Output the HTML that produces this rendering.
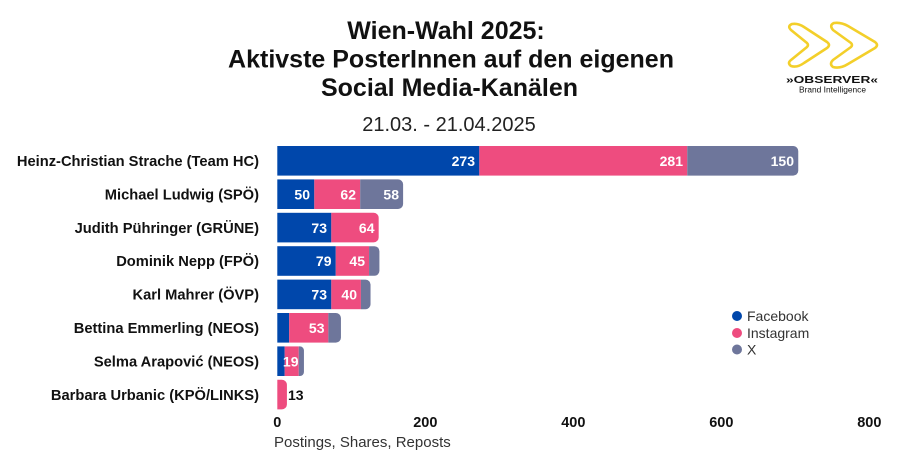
<!DOCTYPE html>
<html><head><meta charset="utf-8"><style>
html,body{margin:0;padding:0;background:#fff;}
svg{display:block;}
text{font-family:"Liberation Sans",Arial,sans-serif;}
</style></head><body>
<svg width="900" height="470" viewBox="0 0 900 470" xmlns="http://www.w3.org/2000/svg">
<rect width="900" height="470" fill="#fff"/>
<!-- Title -->
<text x="446" y="39" text-anchor="middle" font-size="25" font-weight="bold" fill="#111">Wien-Wahl 2025:</text>
<text x="451" y="67.5" text-anchor="middle" font-size="25" font-weight="bold" fill="#111">Aktivste PosterInnen auf den eigenen</text>
<text x="449.5" y="96" text-anchor="middle" font-size="25" font-weight="bold" fill="#111">Social Media-Kanälen</text>
<text x="449" y="131" text-anchor="middle" font-size="20" fill="#222">21.03. - 21.04.2025</text>

<!-- Logo -->
<g fill="none" stroke="#f3cf2a" stroke-width="2.6" stroke-linejoin="round">
<path d="M792 24 Q798 23 804 27 L827 42 Q831 45 827 48 L804 63 Q797 68 791 66 Q787 63 791 60 L807 47 Q809 45 807 43 L791 30 Q787 26 792 24 Z"/>
<path d="M834 23 Q841 22 848 26 L875 42 Q879 45 875 48 L848 64 Q840 69 833 67 Q829 64 833 60 L851 47 Q853 45 851 43 L833 30 Q829 25 834 23 Z"/>
</g>
<text x="786" y="83" font-family="'Liberation Serif',serif" font-size="10.5" font-weight="bold" fill="#111" textLength="92" lengthAdjust="spacingAndGlyphs">»OBSERVER«</text>
<text x="799" y="92.5" font-size="8" fill="#111" textLength="67" lengthAdjust="spacingAndGlyphs">Brand Intelligence</text>

<!-- Name labels -->
<g font-size="14.7" font-weight="bold" fill="#111" text-anchor="end">
<text x="259" y="166">Heinz-Christian Strache (Team HC)</text>
<text x="259" y="199.4">Michael Ludwig (SPÖ)</text>
<text x="259" y="232.8">Judith Pühringer (GRÜNE)</text>
<text x="259" y="266.2">Dominik Nepp (FPÖ)</text>
<text x="259" y="299.6">Karl Mahrer (ÖVP)</text>
<text x="259" y="333">Bettina Emmerling (NEOS)</text>
<text x="259" y="366.4">Selma Arapović (NEOS)</text>
<text x="259" y="399.8">Barbara Urbanic (KPÖ/LINKS)</text>
</g>

<!-- Bars -->
<!-- Bar 0 y=146 -->
<rect x="277.3" y="146" width="202.02" height="29.6" fill="#0047ab"/>
<rect x="479.32" y="146" width="207.94" height="29.6" fill="#ee4c7f"/>
<path d="M687.26 146 H793.26 A5 5 0 0 1 798.26 151 V170.6 A5 5 0 0 1 793.26 175.6 H687.26 Z" fill="#6e769b"/>
<!-- Bar 1 y=179.4 -->
<rect x="277.3" y="179.4" width="37" height="29.6" fill="#0047ab"/>
<rect x="314.3" y="179.4" width="45.88" height="29.6" fill="#ee4c7f"/>
<path d="M360.18 179.4 H398.1 A5 5 0 0 1 403.1 184.4 V204 A5 5 0 0 1 398.1 209 H360.18 Z" fill="#6e769b"/>
<!-- Bar 2 y=212.8 -->
<rect x="277.3" y="212.8" width="54.02" height="29.6" fill="#0047ab"/>
<path d="M331.32 212.8 H373.68 A5 5 0 0 1 378.68 217.8 V237.4 A5 5 0 0 1 373.68 242.4 H331.32 Z" fill="#ee4c7f"/>
<!-- Bar 3 y=246.2 -->
<rect x="277.3" y="246.2" width="58.46" height="29.6" fill="#0047ab"/>
<rect x="335.76" y="246.2" width="33.3" height="29.6" fill="#ee4c7f"/>
<path d="M369.06 246.2 H374.42 A5 5 0 0 1 379.42 251.2 V270.8 A5 5 0 0 1 374.42 275.8 H369.06 Z" fill="#6e769b"/>
<!-- Bar 4 y=279.6 -->
<rect x="277.3" y="279.6" width="54.02" height="29.6" fill="#0047ab"/>
<rect x="331.32" y="279.6" width="29.6" height="29.6" fill="#ee4c7f"/>
<path d="M360.92 279.6 H365.54 A5 5 0 0 1 370.54 284.6 V304.2 A5 5 0 0 1 365.54 309.2 H360.92 Z" fill="#6e769b"/>
<!-- Bar 5 y=313 -->
<rect x="277.3" y="313" width="11.84" height="29.6" fill="#0047ab"/>
<rect x="289.14" y="313" width="39.22" height="29.6" fill="#ee4c7f"/>
<path d="M328.36 313 H335.94 A5 5 0 0 1 340.94 318 V337.6 A5 5 0 0 1 335.94 342.6 H328.36 Z" fill="#6e769b"/>
<!-- Bar 6 y=346.4 -->
<rect x="277.3" y="346.4" width="7.4" height="29.6" fill="#0047ab"/>
<rect x="284.7" y="346.4" width="14.06" height="29.6" fill="#ee4c7f"/>
<path d="M298.76 346.4 H299.94 A4 4 0 0 1 303.94 350.4 V372 A4 4 0 0 1 299.94 376 H298.76 Z" fill="#6e769b"/>
<!-- Bar 7 y=379.8 -->
<path d="M277.3 379.8 H281.92 A5 5 0 0 1 286.92 384.8 V404.4 A5 5 0 0 1 281.92 409.4 H277.3 Z" fill="#ee4c7f"/>

<!-- Value labels -->
<g font-size="14" font-weight="bold" fill="#fff" text-anchor="end">
<text x="475" y="166">273</text>
<text x="683" y="166">281</text>
<text x="794" y="166">150</text>
<text x="310" y="199.4">50</text>
<text x="356" y="199.4">62</text>
<text x="399" y="199.4">58</text>
<text x="327" y="232.8">73</text>
<text x="374.5" y="232.8">64</text>
<text x="331.5" y="266.2">79</text>
<text x="365" y="266.2">45</text>
<text x="327" y="299.6">73</text>
<text x="357" y="299.6">40</text>
<text x="324.5" y="333">53</text>
<text x="298.5" y="366.4">19</text>
</g>
<text x="288" y="399.8" font-size="14" font-weight="bold" fill="#111">13</text>

<!-- Axis ticks -->
<g font-size="14.5" font-weight="bold" fill="#111" text-anchor="middle">
<text x="277.3" y="427">0</text>
<text x="425.3" y="427">200</text>
<text x="573.3" y="427">400</text>
<text x="721.3" y="427">600</text>
<text x="869.3" y="427">800</text>
</g>
<text x="274" y="447" font-size="15" fill="#333">Postings, Shares, Reposts</text>

<!-- Legend -->
<circle cx="737" cy="316" r="5" fill="#0047ab"/>
<circle cx="737" cy="333" r="5" fill="#ee4c7f"/>
<circle cx="737" cy="349.5" r="5" fill="#6e769b"/>
<g font-size="14" fill="#333">
<text x="747" y="321">Facebook</text>
<text x="747" y="338">Instagram</text>
<text x="747" y="354.5">X</text>
</g>
</svg>
</body></html>
